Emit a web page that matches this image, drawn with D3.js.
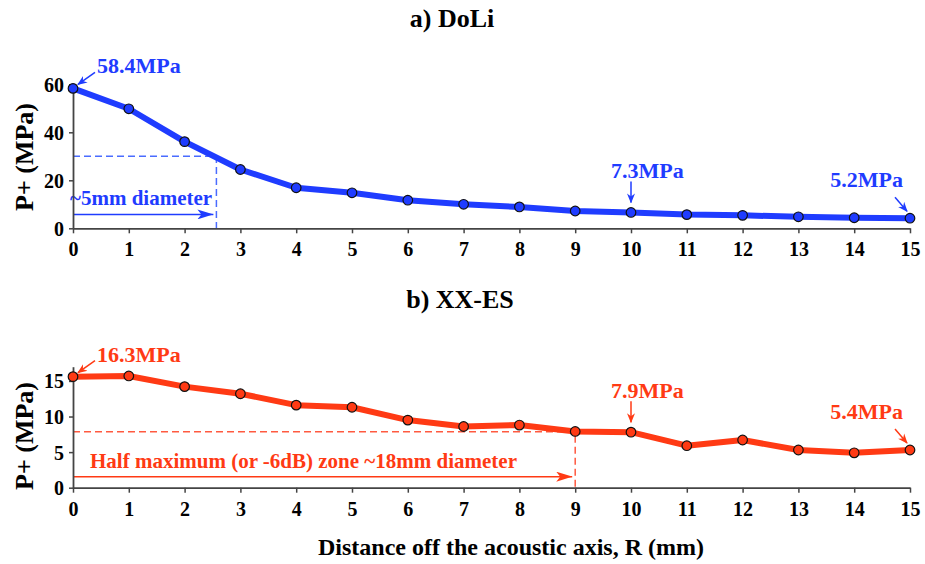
<!DOCTYPE html>
<html>
<head>
<meta charset="utf-8">
<script src="https://cdn.jsdelivr.net/npm/d3@7/dist/d3.min.js"></script>
<style>
  body { margin: 0; background: #fff; }
  svg text { font-family: "Liberation Serif", "Nimbus Roman", "Tinos", "Times New Roman", Times, "DejaVu Serif", serif; font-weight: bold; }
</style>
</head>
<body>
<div id="chart"></div>
<script>
// x positions (mm off the acoustic axis)
const distance = d3.range(0, 16);
const xTicks = d3.range(0, 16);

// a) DoLi peak positive pressure (MPa)
const doliValues = [58.3, 49.8, 36.1, 24.5, 16.9, 14.8, 11.7, 10.0, 8.9, 7.2, 6.6, 5.7, 5.4, 4.8, 4.4, 4.2];
const doliTicks = [0, 20, 40, 60];
// b) XX-ES peak positive pressure (MPa)
const xxesValues = [15.6, 15.7, 14.2, 13.2, 11.6, 11.3, 9.5, 8.6, 8.8, 7.9, 7.8, 5.9, 6.7, 5.3, 4.9, 5.3];
const xxesTicks = [0, 5, 10, 15];

// callouts: index of point + label
const doliCallouts = [
  {i: 0, label: '58.4MPa', kind: 'nw'},
  {i: 10, label: '7.3MPa', kind: 'down'},
  {i: 15, label: '5.2MPa', kind: 'ne'}
];
const xxesCallouts = [
  {i: 0, label: '16.3MPa', kind: 'nw'},
  {i: 10, label: '7.9MPa', kind: 'down'},
  {i: 15, label: '5.4MPa', kind: 'ne'}
];
// half-maximum zones
const doliZone = {level: 30, radius: 2.57, arrowAt: 5.8, text: '~5mm diameter'};
const xxesZone = {level: 7.85, radius: 9, arrowAt: 1.55, text: 'Half maximum (or -6dB) zone ~18mm diameter'};

const width = 925, height = 564;
const x0 = 73, x1 = 910;
const serif = '"Liberation Serif", "Nimbus Roman", "Tinos", "Times New Roman", Times, "DejaVu Serif", serif';

const svg = d3.select('#chart').append('svg')
  .attr('width', width).attr('height', height);

const defs = svg.append('defs');
function marker(id, color) {
  defs.append('marker')
    .attr('id', id)
    .attr('viewBox', '0 0 10 10')
    .attr('refX', 9).attr('refY', 5)
    .attr('markerWidth', 10).attr('markerHeight', 10)
    .attr('markerUnits', 'userSpaceOnUse')
    .attr('orient', 'auto')
    .append('path')
    .attr('d', 'M0,1 L10,5 L0,9 L3,5 Z')
    .attr('fill', color);
}
function bigMarker(id, color) {
  defs.append('marker')
    .attr('id', id)
    .attr('viewBox', '0 0 16 10')
    .attr('refX', 16).attr('refY', 5)
    .attr('markerWidth', 16).attr('markerHeight', 10)
    .attr('markerUnits', 'userSpaceOnUse')
    .attr('orient', 'auto')
    .append('path')
    .attr('d', 'M0,0 L16,5 L0,10 L4,5 Z')
    .attr('fill', color);
}

const scaleX = d3.scaleLinear().domain([0, 15]).range([x0, x1]);

function panel(cfg) {
  const {values, yDomain, yTicks, yRange, color, dashColor, title, titleX, titleY, callouts, zone, ylabelY} = cfg;
  marker('m-' + cfg.id, color);
  bigMarker('b-' + cfg.id, color);
  const scaleY = d3.scaleLinear().domain(yDomain).range(yRange);
  const g = svg.append('g');

  // title
  g.append('text')
    .attr('x', titleX).attr('y', titleY)
    .attr('text-anchor', 'middle')
    .style('font-size', '26px')
    .text(title);

  // y label
  g.append('text')
    .attr('transform', `translate(33,${ylabelY}) rotate(-90)`)
    .attr('text-anchor', 'middle')
    .style('font-size', '26px')
    .text('P+ (MPa)');

  // half max zone guides
  g.append('path')
    .attr('d', `M${scaleX(0)},${scaleY(zone.level)} H${scaleX(zone.radius)} V${scaleY(0)}`)
    .attr('fill', 'none')
    .attr('stroke', dashColor)
    .attr('stroke-width', 1.5)
    .attr('stroke-dasharray', '7,4');
  g.append('line')
    .attr('x1', scaleX(0)).attr('x2', scaleX(zone.radius) - 3)
    .attr('y1', scaleY(zone.arrowAt)).attr('y2', scaleY(zone.arrowAt))
    .attr('stroke', color)
    .attr('stroke-width', 1.5)
    .attr('marker-end', `url(#b-${cfg.id})`);
  g.append('text')
    .attr('x', scaleX(0) - 3 + (cfg.id === 'b' ? 20 : 0))
    .attr('y', scaleY(zone.arrowAt) - 9)
    .attr('fill', color)
    .style('font-size', '21px')
    .text(zone.text);

  // axes
  const axisX = d3.axisBottom(scaleX).tickValues(xTicks).tickSize(5).tickPadding(5).tickSizeOuter(0);
  const axisY = d3.axisLeft(scaleY).tickValues(yTicks).tickSize(4).tickPadding(5).tickSizeOuter(0);
  const ax = g.append('g').attr('transform', `translate(0,${scaleY(0)})`).call(axisX);
  const ay = g.append('g').attr('transform', `translate(${x0},0)`).call(axisY);
  [ax, ay].forEach(a => {
    a.attr('font-family', serif);
    a.select('.domain').attr('stroke', '#444').attr('stroke-width', 1.8);
    a.selectAll('.tick line').attr('stroke', '#444').attr('stroke-width', 1.5);
    a.selectAll('.tick text')
      .attr('fill', '#000')
      .style('font-weight', 'bold')
      .style('font-size', '20px');
  });
  ax.selectAll('.tick text').attr('dy', '0.9em');
  ay.selectAll('.tick text').attr('dy', '0.35em');

  // line + points
  const line = d3.line()
    .x((d, i) => scaleX(distance[i]))
    .y(d => scaleY(d));
  g.append('path')
    .datum(values)
    .attr('d', line)
    .attr('fill', 'none')
    .attr('stroke', color)
    .attr('stroke-width', 6)
    .attr('stroke-linejoin', 'round');
  g.selectAll('.pt')
    .data(values)
    .enter().append('circle')
    .attr('class', 'pt')
    .attr('cx', (d, i) => scaleX(distance[i]))
    .attr('cy', d => scaleY(d))
    .attr('r', 4.8)
    .attr('fill', color)
    .attr('stroke', '#111')
    .attr('stroke-width', 1.2);

  // callouts
  callouts.forEach(c => {
    const px = scaleX(distance[c.i]), py = scaleY(values[c.i]);
    let ax1, ay1, ax2, ay2, tx, ty, anchor;
    if (c.kind === 'nw') {
      ax1 = px + 22; ay1 = py - 16; ax2 = px + 5; ay2 = py - 4;
      tx = px + 24; ty = py - 15; anchor = 'start';
    } else if (c.kind === 'down') {
      ax1 = px; ay1 = py - 31; ax2 = px; ay2 = py - 10;
      tx = px - 20; ty = py - 34; anchor = 'start';
    } else {
      ax1 = px - 15; ay1 = py - 21; ax2 = px - 3; ay2 = py - 7;
      tx = px - 7; ty = py - 31; anchor = 'end';
    }
    g.append('line')
      .attr('x1', ax1).attr('y1', ay1).attr('x2', ax2).attr('y2', ay2)
      .attr('stroke', color).attr('stroke-width', 1.5)
      .attr('marker-end', `url(#m-${cfg.id})`);
    g.append('text')
      .attr('x', tx).attr('y', ty)
      .attr('text-anchor', anchor)
      .attr('fill', color)
      .style('font-size', '22px')
      .text(c.label);
  });
}

panel({
  id: 'a', values: doliValues, yDomain: [0, 60], yTicks: doliTicks, yRange: [228.3, 84.3],
  color: '#1f3cff', dashColor: '#4a6cff', title: 'a) DoLi', titleX: 452, titleY: 27,
  callouts: doliCallouts, zone: doliZone, ylabelY: 157
});
panel({
  id: 'b', values: xxesValues, yDomain: [0, 17], yTicks: xxesTicks, yRange: [487.7, 366.7],
  color: '#ff3a14', dashColor: '#ff5a40', title: 'b) XX-ES', titleX: 460, titleY: 308,
  callouts: xxesCallouts, zone: xxesZone, ylabelY: 436
});

// shared x label
svg.append('text')
  .attr('x', 511).attr('y', 555)
  .attr('text-anchor', 'middle')
  .style('font-size', '24px')
  .text('Distance off the acoustic axis, R (mm)');
</script>
</body>
</html>
